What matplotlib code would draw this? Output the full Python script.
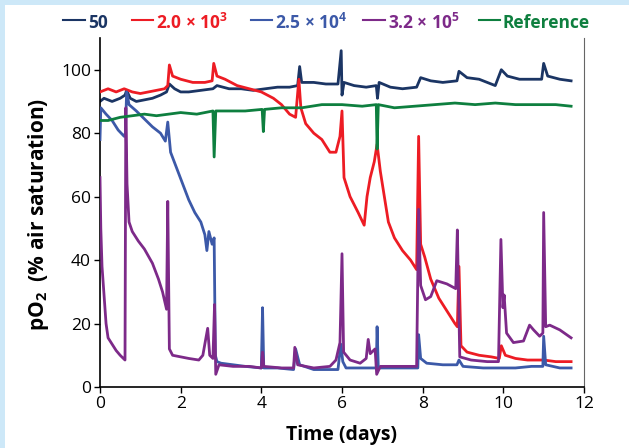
import matplotlib
matplotlib.use('Agg')
import matplotlib.pyplot as plt
from matplotlib.lines import Line2D
from matplotlib.patches import Rectangle

plt.rcParams['font.family'] = ['Open Sans', 'DejaVu Sans']
plt.rcParams['mathtext.fontset'] = 'custom'
plt.rcParams['mathtext.rm'] = 'Open Sans'
plt.rcParams['mathtext.bf'] = 'Open Sans:bold'

# ######### Data #########

labels = ['50', r'2.0 × 10$^{\mathbf{3}}$', r'2.5 × 10$^{\mathbf{4}}$',
          r'3.2 × 10$^{\mathbf{5}}$', 'Reference']
colors = ['#1b3564', '#ed1c24', '#3c59a8', '#7d2a89', '#0e7f3f']

t_50 = [0, 0.1, 0.3, 0.5, 0.62, 0.66, 0.75, 0.9, 1.1, 1.3, 1.5, 1.65, 1.72, 1.85, 2.0, 2.2, 2.5,
        2.8, 2.9, 3.2, 3.5, 3.8, 4.1, 4.4, 4.7, 4.9, 4.95, 5.0, 5.3, 5.6, 5.9, 5.98, 6.0, 6.05,
        6.3, 6.6, 6.85, 6.88, 6.92, 7.2, 7.5, 7.85, 7.95, 8.2, 8.5, 8.85, 8.9, 9.1, 9.4, 9.8,
        9.95, 10.1, 10.4, 10.7, 10.95, 11.0, 11.1, 11.4, 11.68]
v_50 = [90, 91, 90, 91, 92, 93.5, 91, 90, 90.5, 91, 92, 93, 95.5, 94, 93, 93, 93.5,
        94, 95, 94, 94, 93.5, 94, 94.5, 94.5, 95, 101, 96, 96, 95.5, 95.5, 106, 92, 96,
        95, 94.5, 95, 91, 96, 94.5, 94, 94.5, 97.5, 96.5, 96, 96.5, 99.5, 97.5, 97, 95,
        100, 98, 97, 97, 97, 102, 98, 97, 96.5]

t_2k = [0, 0.2, 0.4, 0.6, 0.8, 1.0, 1.2, 1.4, 1.6, 1.68, 1.72, 1.8, 2.0, 2.3, 2.6, 2.78, 2.82,
        2.9, 3.1, 3.4, 3.7, 4.0, 4.3, 4.5, 4.7, 4.85, 4.93, 4.98, 5.1, 5.3, 5.5, 5.7, 5.85,
        5.95, 6.0, 6.05, 6.2, 6.4, 6.55, 6.62, 6.7, 6.8, 6.87, 6.95, 7.05, 7.15, 7.3, 7.5,
        7.7, 7.85, 7.9, 7.95, 8.05, 8.2, 8.4, 8.6, 8.8, 8.86, 8.9, 8.95, 9.1, 9.4, 9.7, 9.9,
        9.95, 10.05, 10.3, 10.6, 11.0, 11.3, 11.68]
v_2k = [93, 94, 93, 94, 93, 92.5, 93, 93.5, 94, 95, 101.5, 98, 97, 96, 96, 96.5, 102,
        98, 97, 95, 94, 93, 91, 89, 86, 85, 97, 88, 83, 80, 78, 74, 74,
        79, 87, 66, 60, 55, 51, 60, 66, 71, 76.5, 68, 60, 52, 47, 43,
        40, 37, 79, 45, 41, 34, 28, 24, 20, 19, 38, 13, 11, 10, 9.5, 9,
        13, 10, 9, 8.5, 8.5, 8, 8]

t_25k = [0, 0.02, 0.15, 0.3, 0.45, 0.6, 0.63, 0.66, 0.72, 0.9, 1.1, 1.3, 1.5, 1.62, 1.68, 1.75,
         1.9, 2.05, 2.2, 2.35, 2.5, 2.6, 2.65, 2.7, 2.78, 2.83, 2.86, 2.9, 3.0, 3.3, 3.6, 4.0,
         4.03, 4.06, 4.4, 4.8, 4.85, 4.95, 5.3, 5.6, 5.9, 5.97, 6.02, 6.1, 6.5, 6.85, 6.87,
         6.9, 7.3, 7.6, 7.88, 7.9, 7.95, 8.1, 8.5, 8.85, 8.9, 9.0, 9.5, 9.9, 10.3, 10.7,
         10.98, 11.0, 11.05, 11.4, 11.68]
v_25k = [78, 88, 86, 84, 81, 79, 80, 93, 89, 87, 84.5, 82, 80, 77.5, 83.5, 74,
         69, 64, 59, 55, 52, 48, 43, 49, 45, 47, 10, 8, 7.5, 7, 6.5, 6,
         25, 6, 6, 5.5, 12, 7, 5.5, 5.5, 5.5, 13.5, 8, 6, 6, 6, 19,
         6, 6, 6, 6, 16.5, 9, 7.5, 7, 7, 8.5, 6.5, 6, 6, 6, 6.5,
         6.5, 16, 7, 6, 6]

t_320k = [0, 0.02, 0.05, 0.1, 0.15, 0.2, 0.3, 0.4, 0.5, 0.58, 0.62, 0.64, 0.67, 0.72, 0.8, 0.95,
          1.1, 1.3, 1.45, 1.55, 1.65, 1.68, 1.72, 1.8, 2.0, 2.2, 2.45, 2.55, 2.62, 2.67, 2.72,
          2.8, 2.84, 2.87, 2.95, 3.3, 3.7, 4.0, 4.03, 4.06, 4.5, 4.8, 4.83, 4.9, 5.3, 5.7,
          5.85, 5.95, 6.0, 6.04, 6.2, 6.45, 6.6, 6.65, 6.7, 6.82, 6.86, 6.95, 7.4, 7.85, 7.9,
          7.95, 8.07, 8.2, 8.35, 8.6, 8.82, 8.86, 8.92, 9.2, 9.6, 9.88, 9.94, 9.99, 10.02,
          10.08, 10.25, 10.5, 10.65, 10.75, 10.9, 10.98, 11.0, 11.05, 11.15, 11.4, 11.68]
v_320k = [66, 50, 38, 29, 20, 15.5, 13.5, 11.5, 10, 9, 8.5, 88, 64, 52, 49, 46,
          43.5, 39, 34, 30, 24.5, 58.5, 12, 10, 9.5, 9, 8.5, 10, 15, 18.5, 10,
          9, 26, 4, 7, 6.5, 6.5, 6, 11, 6.5, 6, 6, 12.5, 7, 6, 6.5,
          8.5, 14, 42, 11, 8.5, 7.5, 9, 15, 10.5, 12, 4, 6.5, 6.5, 6.5, 56,
          32, 27.5, 28.5, 33.5, 32.5, 31, 49.5, 9.5, 8.5, 8, 8, 46.5, 25, 29,
          17, 14, 14.5, 19.5, 18, 16, 17, 55, 19, 19.5, 18, 15.5]

t_ref = [0, 0.2, 0.5, 0.8, 1.1, 1.4, 1.7, 2.0, 2.4, 2.8, 2.83, 2.87, 3.2, 3.6, 4.02, 4.05, 4.08,
         4.5, 5.0, 5.5, 6.0, 6.5, 6.85, 6.87, 6.9, 7.3, 7.8, 8.3, 8.8, 9.3, 9.8, 10.3, 10.8,
         11.3, 11.68]
v_ref = [84, 84, 85, 85.5, 86, 85.5, 86, 86.5, 86, 87, 72.5, 87, 87, 87, 87.5, 80.5, 87.5,
         88, 88, 89, 89, 88.5, 89, 75, 89, 88, 88.5, 89, 89.5, 89, 89.5, 89, 89,
         89, 88.5]

x_ticks = [0, 2, 4, 6, 8, 10, 12]
y_ticks = [0, 20, 40, 60, 80, 100]

# ######### Figure #########

W, H = 629, 448
fig = plt.figure(figsize=(W / 100, H / 100), dpi=100, facecolor='#cde8f8')
fig.add_artist(Rectangle((5 / W, 0), 1, 1 - 5 / H, transform=fig.transFigure,
                         facecolor='white', edgecolor='none', zorder=-10))

ax = fig.add_axes([100 / W, 1 - 387 / H, 484 / W, 349 / H])
ax.set_zorder(1)
ax.set_facecolor('none')

series = [(t_50, v_50), (t_2k, v_2k), (t_25k, v_25k), (t_320k, v_320k), (t_ref, v_ref)]
for (t, v), c, z in zip(series, colors, [2, 3, 4, 5, 6]):
    ax.plot(t, v, color=c, lw=2.0, zorder=z)

ax.set_xlim(0, 12)
ax.set_ylim(0, 110)
ax.set_xticks(x_ticks)
ax.set_yticks(y_ticks)
ax.tick_params(axis='both', direction='out', length=4.5, width=1, labelsize=12.5, pad=2)
ax.spines['top'].set_visible(False)
ax.spines['right'].set_color('#666666')
ax.spines['left'].set_linewidth(1.2)
ax.spines['bottom'].set_linewidth(1.2)

fig.text(342 / W, 1 - 440 / H, 'Time (days)', ha='center', va='baseline',
         fontsize=14, fontweight='bold')
fig.text(39 / W, 1 - 214 / H, r'pO$_{\mathbf{2}}$  (% air saturation)', rotation=90,
         ha='center', va='center', fontsize=15, fontweight='bold')

# legend along the top
leg_line_x = [63, 132, 251, 363, 479]
leg_text_x = [88, 156, 275, 388, 503]
for lab, c, lx, tx in zip(labels, colors, leg_line_x, leg_text_x):
    fig.add_artist(Line2D([lx / W, (tx - 3) / W], [1 - 20 / H, 1 - 20 / H],
                          transform=fig.transFigure, color=c, lw=1.5))
    fig.text(tx / W, 1 - 23 / H, lab, ha='left', va='center', color=c,
             fontsize=12.5, fontweight='bold')

fig.savefig('out.png', dpi=100, facecolor=fig.get_facecolor())
